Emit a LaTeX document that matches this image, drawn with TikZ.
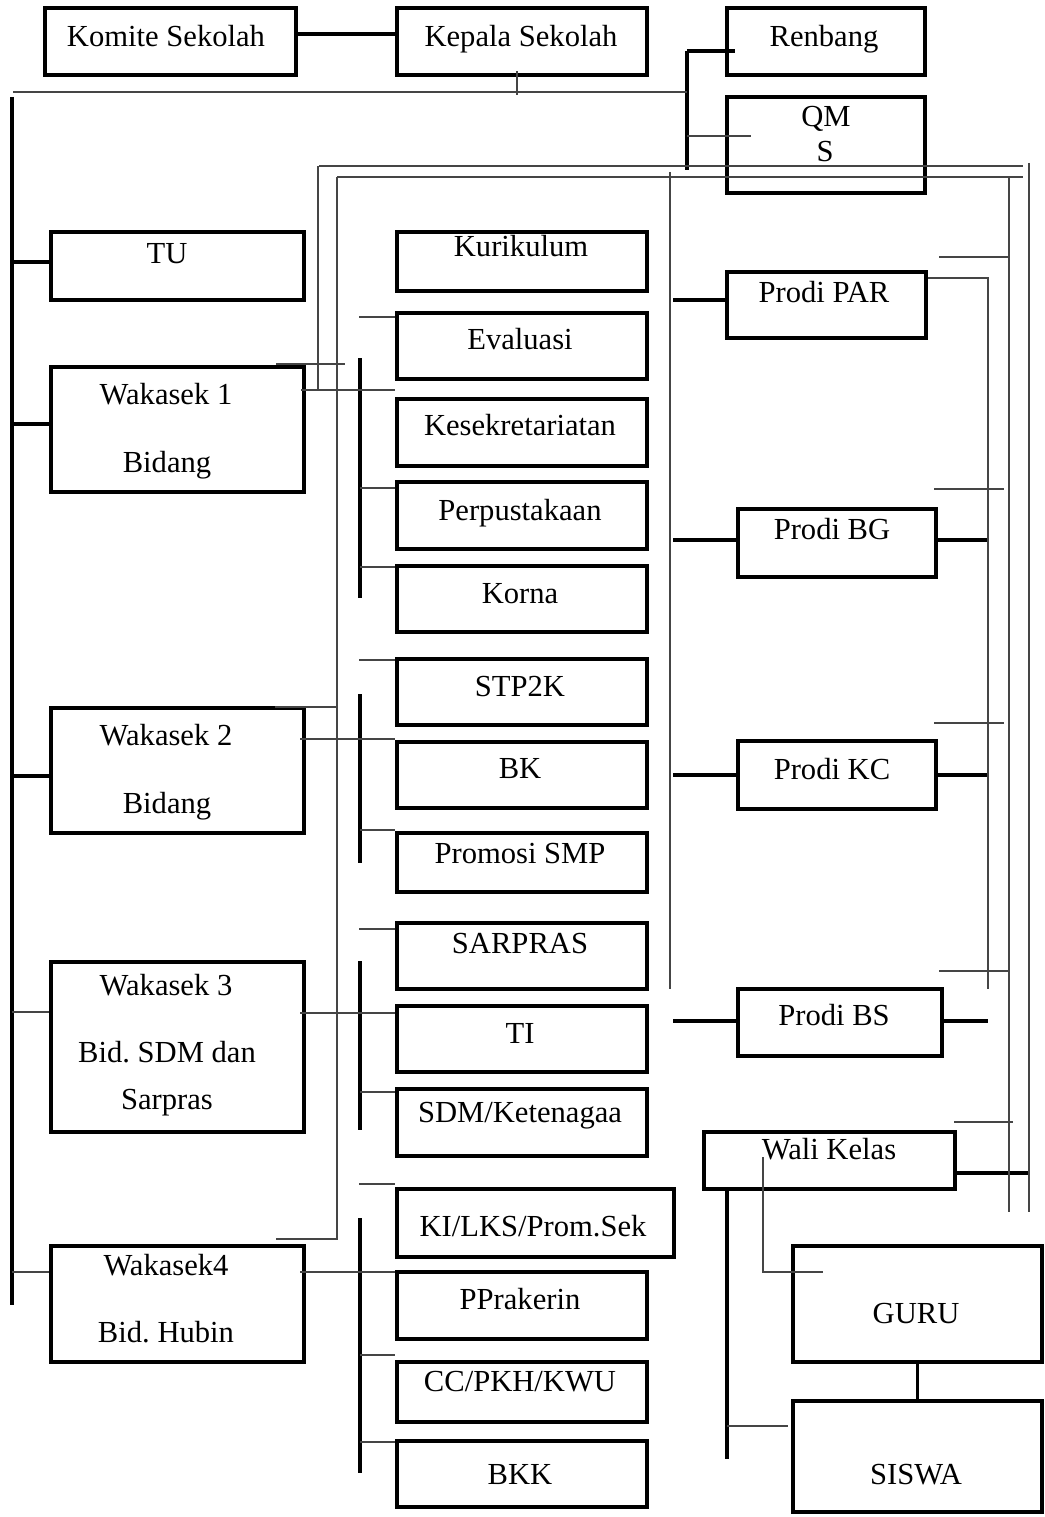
\documentclass[tikz,border=0pt]{standalone}
\usepackage{fontspec}
\setmainfont{Liberation Serif}
\usetikzlibrary{fit}
\frenchspacing
\newcommand\fsz{\fontsize{30.6}{36}\selectfont}
\definecolor{lgray}{gray}{0.27}
\tikzset{
  box/.style={draw=black, line width=3.3pt, inner sep=0pt, rectangle},
  thk/.style={draw=black, line width=3.2pt},
  thn/.style={draw=lgray, line width=2pt},
  lbl/.style={font=\fsz, anchor=base, inner sep=0pt}
}
\newcommand\mybox[5]{\node[box, fit={(#2,#3) (#4,#5)}] (#1) {};}
\begin{document}
\begin{tikzpicture}[x=1pt,y=-1pt]
\fill[white] (0,0) rectangle (1044,1517);
\useasboundingbox (0,0) rectangle (1044,1517);

% ---------- boxes ----------
\mybox{kom}{45}{8}{296}{75}
\mybox{kep}{397}{8}{647}{75}
\mybox{ren}{727}{8}{925}{75}
\mybox{qms}{727}{97}{925}{193}
\mybox{tu}{51}{232}{304}{300}
\mybox{wa}{51}{367}{304}{492}
\mybox{wb}{51}{708}{304}{833}
\mybox{wc}{51}{962}{304}{1132}
\mybox{wd}{51}{1246}{304}{1362}
\mybox{kur}{397}{232}{647}{291}
\mybox{eva}{397}{313}{647}{379}
\mybox{kes}{397}{399}{647}{466}
\mybox{per}{397}{482}{647}{549}
\mybox{kor}{397}{566}{647}{632}
\mybox{stp}{397}{659}{647}{725}
\mybox{bk}{397}{742}{647}{808}
\mybox{psmp}{397}{833}{647}{892}
\mybox{sar}{397}{923}{647}{989}
\mybox{ti}{397}{1006}{647}{1072}
\mybox{sdm}{397}{1089}{647}{1156}
\mybox{ki}{397}{1189}{674}{1257}
\mybox{ppr}{397}{1272}{647}{1339}
\mybox{cc}{397}{1362}{647}{1422}
\mybox{bkk}{397}{1441}{647}{1507}
\mybox{par}{727}{272}{926}{338}
\mybox{bg}{738}{509}{936}{577}
\mybox{kc}{738}{741}{936}{809}
\mybox{bs}{738}{989}{942}{1056}
\mybox{wali}{704}{1132}{955}{1189}
\mybox{guru}{793}{1246}{1042}{1362}
\mybox{siswa}{793}{1401}{1042}{1512}

% ---------- texts ----------
\node[lbl] (tkom) at (166,47) {Komite Sekolah};
\node[lbl] (tkep) at (521,47) {Kepala Sekolah};
\node[lbl] (tren) at (824,47) {Renbang};
\node[lbl] (tqa) at (826,127) {QM};
\node[lbl] (tqb) at (825,162) {S};
\node[lbl] (ttu) at (167,263) {TU};
\node[lbl] (twa1) at (166,404) {Wakasek 1};
\node[lbl] (twa2) at (167,472) {Bidang};
\node[lbl] (twb1) at (166,745) {Wakasek 2};
\node[lbl] (twb2) at (167,813) {Bidang};
\node[lbl] (twc1) at (166,995) {Wakasek 3};
\node[lbl] (twc2) at (167,1062) {Bid. SDM dan};
\node[lbl] (twc3) at (167,1109) {Sarpras};
\node[lbl] (twd1) at (166,1275) {Wakasek4};
\node[lbl] (twd2) at (166,1342) {Bid. Hubin};
\node[lbl] (tkur) at (521,256) {Kurikulum};
\node[lbl] (teva) at (520,349) {Evaluasi};
\node[lbl] (tkes) at (520,435) {Kesekretariatan};
\node[lbl] (tper) at (520,520) {Perpustakaan};
\node[lbl] (tkor) at (520,603) {Korna};
\node[lbl] (tstp) at (520,696) {STP2K};
\node[lbl] (tbk) at (520,778) {BK};
\node[lbl] (tpsmp) at (520,863) {Promosi SMP};
\node[lbl] (tsar) at (520,953) {SARPRAS};
\node[lbl] (tti) at (520,1043) {TI};
\node[lbl] (tsdm) at (520,1122) {SDM/Ketenagaa};
\node[lbl] (tki) at (533,1236) {KI/LKS/Prom.Sek};
\node[lbl] (tppr) at (520,1309) {PPrakerin};
\node[lbl] (tcc) at (520,1391) {CC/PKH/KWU};
\node[lbl] (tbkk) at (520,1484) {BKK};
\node[lbl] (tpar) at (824,302) {Prodi PAR};
\node[lbl] (tbg) at (832,539) {Prodi BG};
\node[lbl] (tkc) at (832,779) {Prodi KC};
\node[lbl] (tbs) at (834,1025) {Prodi BS};
\node[lbl] (twali) at (829,1159) {Wali Kelas};
\node[lbl] (tguru) at (916,1323) {GURU};
\node[lbl] (tsiswa) at (916,1484) {SISWA};

% ---------- coordinates ----------
\coordinate (lt) at (12,97);
\coordinate (lb) at (12,1305);
\coordinate (rv) at (687,51);

% ---------- thick connectors ----------
\draw[thk] (kom.east |- 0,34) -- (kep.west |- 0,34);
\draw[thk] (lt) -- (lb);
\draw[thk] (12,262) -- (tu.west |- 0,262);
\draw[thk] (12,424) -- (wa.west |- 0,424);
\draw[thk] (12,776) -- (wb.west |- 0,776);
\draw[thk] (rv) -- (687,170);
\draw[thk] (rv) -- (735,51);
\draw[thk] (360,358) -- (360,598);
\draw[thk] (360,694) -- (360,863);
\draw[thk] (360,961) -- (360,1130);
\draw[thk] (360,1218) -- (360,1473);
\draw[thk] (673,300) -- (par.west |- 0,300);
\draw[thk] (673,540) -- (bg.west |- 0,540);
\draw[thk] (673,775) -- (kc.west |- 0,775);
\draw[thk] (673,1021) -- (bs.west |- 0,1021);
\draw[thk] (bg.east |- 0,540) -- (988,540);
\draw[thk] (kc.east |- 0,775) -- (988,775);
\draw[thk] (bs.east |- 0,1021) -- (988,1021);
\draw[thk] (wali.east |- 0,1173) -- (1029,1173);
\draw[thk] (727,1189) -- (727,1459);
\draw[thk] (guru.south) -- (siswa.north);

% ---------- thin connectors ----------
\draw[thn] (517,71) -- (517,95);
\draw[thn] (13,92) -- (687,92);
\draw[thn] (687,136) -- (751,136);
\draw[thn] (319,166) -- (1023,166);
\draw[thn] (337,177) -- (1023,177);
\draw[thn] (318,166) -- (318,390);
\draw[thn] (337,177) -- (337,1239) -- (276,1239);
\draw[thn] (670,172) -- (670,989);
\draw[thn] (par.east |- 0,278) -- (988,278) -- (988,989);
\draw[thn] (1009,177) -- (1009,1212);
\draw[thn] (1029,163) -- (1029,1212);
\draw[thn] (939,257) -- (1009,257);
\draw[thn] (934,489) -- (1004,489);
\draw[thn] (934,723) -- (1004,723);
\draw[thn] (939,971) -- (1010,971);
\draw[thn] (954,1122) -- (1013,1122);
\draw[thn] (276,364) -- (345,364);
\draw[thn] (301,390) -- (kes.west |- 0,390);
\draw[thn] (275,707) -- (337,707);
\draw[thn] (300,739) -- (bk.west |- 0,739);
\draw[thn] (300,1013) -- (ti.west |- 0,1013);
\draw[thn] (12,1012) -- (wc.west |- 0,1012);
\draw[thn] (300,1272) -- (ppr.west |- 0,1272);
\draw[thn] (12,1272) -- (wd.west |- 0,1272);
\draw[thn] (359,317) -- (eva.west |- 0,317);
\draw[thn] (360,488) -- (per.west |- 0,488);
\draw[thn] (360,567) -- (kor.west |- 0,567);
\draw[thn] (359,660) -- (stp.west |- 0,660);
\draw[thn] (360,830) -- (psmp.west |- 0,830);
\draw[thn] (359,929) -- (sar.west |- 0,929);
\draw[thn] (360,1092) -- (sdm.west |- 0,1092);
\draw[thn] (359,1184) -- (ki.west |- 0,1184);
\draw[thn] (360,1355) -- (cc.west |- 0,1355);
\draw[thn] (360,1442) -- (bkk.west |- 0,1442);
\draw[thn] (763,1157) -- (763,1272) -- (823,1272);
\draw[thn] (727,1426) -- (788,1426);
\end{tikzpicture}
\end{document}
